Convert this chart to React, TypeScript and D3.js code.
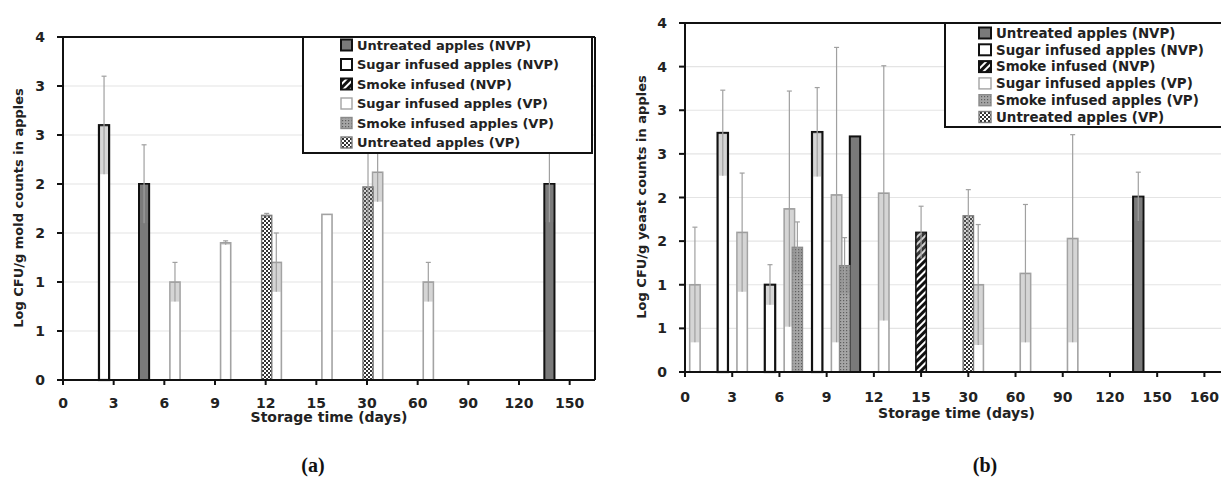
import React from "react";
import * as d3 from "d3";

type Bar = [number, number, number]; // [category index, value, error]

const seriesNames = [
  "Untreated apples (NVP)",
  "Sugar infused apples (NVP)",
  "Smoke infused (NVP)",
  "Sugar infused apples (VP)",
  "Smoke infused apples (VP)",
  "Untreated apples (VP)",
];

const daysA = ["0", "3", "6", "9", "12", "15", "30", "60", "90", "120", "150"];
const daysB = ["0", "3", "6", "9", "12", "15", "30", "60", "90", "120", "150", "160"];

const yTicksA = [0, 0.5, 1, 1.5, 2, 2.5, 3, 3.5];
const yTicksB = [0, 0.5, 1, 1.5, 2, 2.5, 3, 3.5, 4];

// (a) mold counts
const moldUntreatedNVP: Bar[] = [[2, 2.0, 0.4], [10, 2.0, 0.39]];
const moldSugarNVP: Bar[] = [[1, 2.6, 0.5]];
const moldSmokeNVP: Bar[] = [];
const moldSugarVP: Bar[] = [[2, 1.0, 0.2], [3, 1.4, 0.02], [4, 1.2, 0.3], [5, 1.69, 0], [6, 2.12, 0.3], [7, 1.0, 0.2]];
const moldSmokeVP: Bar[] = [];
const moldUntreatedVP: Bar[] = [[4, 1.68, 0.02], [6, 1.97, 0.4]];
const moldOffsets = [-0.4, -0.19, 0, 0.21, 0.38, 0.02];

// (b) yeast counts
const yeastUntreatedNVP: Bar[] = [[4, 2.7, 0], [10, 2.01, 0.28]];
const yeastSugarNVP: Bar[] = [[1, 2.74, 0.49], [2, 1.0, 0.23], [3, 2.75, 0.51]];
const yeastSmokeNVP: Bar[] = [[5, 1.6, 0.3]];
const yeastSugarVP: Bar[] = [[0, 1.0, 0.66], [1, 1.6, 0.68], [2, 1.87, 1.35], [3, 2.03, 1.69], [4, 2.05, 1.46], [6, 1.0, 0.69], [7, 1.13, 0.79], [8, 1.53, 1.19]];
const yeastSmokeVP: Bar[] = [[2, 1.43, 0.29], [3, 1.22, 0.32]];
const yeastUntreatedVP: Bar[] = [[6, 1.79, 0.3]];
const yeastOffsets = [-0.4, -0.2, 0, 0.21, 0.38, 0];

const FONT = "'DejaVu Sans', Verdana, sans-serif";

const styles = [
  { fill: "#7a7a7a", stroke: "#111", sw: 2 },
  { fill: "#ffffff", stroke: "#111", sw: 2.2 },
  { fill: "url(#hatch)", stroke: "#111", sw: 1.6 },
  { fill: "#ffffff", stroke: "#a3a3a3", sw: 1.6 },
  { fill: "url(#dots)", stroke: "#8a8a8a", sw: 1.2 },
  { fill: "url(#checker)", stroke: "#7a7a7a", sw: 1.4 },
];

type LegendCfg = { x: number; y: number; w: number; h: number; row0: number; dy: number; swX: number; swW: number; swH: number; textX: number; fs: number };

type PanelProps = {
  left: number; right: number; top: number; bottom: number;
  xMax: number; yMax: number;
  days: string[]; yTicks: number[];
  series: Bar[][]; offsets: number[]; barW: number;
  yTitle: string; yTitleX: number; yTitleY: number;
  yLabelEnd: number; xLabelBase: number; xTitleBase: number;
  legend: LegendCfg; rightBorder: boolean; axisEnd: number;
};

function Panel(p: PanelProps) {
  const x = d3.scaleLinear().domain([0, p.xMax]).range([p.left, p.right]);
  const y = d3.scaleLinear().domain([0, p.yMax]).range([p.bottom, p.top]);
  const bw = x(p.barW) - x(0);
  const L = p.legend;
  return (
    <g>
      {p.yTicks.slice(1, -1).map((t) => (
        <line key={"g" + t} x1={p.left} x2={p.axisEnd} y1={y(t)} y2={y(t)} stroke="#e4e4e4" strokeWidth={1.2} />
      ))}
      {p.series.map((bars, si) =>
        bars.map(([c, v, e], bi) => {
          const cx = x(c + p.offsets[si]);
          const st = styles[si];
          const lo = Math.max(0, v - e);
          return (
            <g key={si + "-" + bi}>
              <rect x={cx - bw / 2} y={y(v)} width={bw} height={y(0) - y(v)} fill={st.fill} stroke={st.stroke} strokeWidth={st.sw} />
              {e > 0 && (
                <rect x={cx - bw / 2 + st.sw / 2} y={y(v)} width={bw - st.sw} height={y(lo) - y(v)} fill="rgba(128,128,128,0.33)" />
              )}
              {e > 0 && (
                <g stroke="#a0a0a0" strokeWidth={1.2}>
                  <line x1={cx} x2={cx} y1={y(lo)} y2={y(v + e)} />
                  <line x1={cx - 2.5} x2={cx + 2.5} y1={y(v + e)} y2={y(v + e)} />
                </g>
              )}
            </g>
          );
        })
      )}
      {/* axes */}
      <line x1={p.left} x2={p.axisEnd} y1={y(p.yMax)} y2={y(p.yMax)} stroke="#111" strokeWidth={2} />
      {p.rightBorder && <line x1={p.right} x2={p.right} y1={p.top} y2={p.bottom} stroke="#111" strokeWidth={2} />}
      <line x1={p.left} x2={p.left} y1={p.top} y2={p.bottom} stroke="#111" strokeWidth={2} />
      <line x1={p.left - 6} x2={p.axisEnd} y1={p.bottom} y2={p.bottom} stroke="#111" strokeWidth={2} />
      {p.yTicks.map((t) => (
        <g key={"yt" + t}>
          <line x1={p.left - 6} x2={p.left} y1={y(t)} y2={y(t)} stroke="#111" strokeWidth={2} />
          <text x={p.yLabelEnd} y={y(t)} dy="0.36em" textAnchor="end" fontFamily={FONT} fontWeight="bold" fontSize={14} fill="#222">
            {Math.round(t)}
          </text>
        </g>
      ))}
      {p.days.map((d, i) => (
        <g key={"xt" + i}>
          <line x1={x(i)} x2={x(i)} y1={p.bottom} y2={p.bottom + 5} stroke="#111" strokeWidth={2} />
          <text x={x(i)} y={p.xLabelBase} textAnchor="middle" fontFamily={FONT} fontWeight="bold" fontSize={14} fill="#222">
            {d}
          </text>
        </g>
      ))}
      <text x={(p.left + x(p.xMax)) / 2} y={p.xTitleBase} textAnchor="middle" fontFamily={FONT} fontWeight="bold" fontSize={14} fill="#222">
        Storage time (days)
      </text>
      <text transform={`translate(${p.yTitleX},${p.yTitleY}) rotate(-90)`} textAnchor="middle" dy="0.35em" fontFamily={FONT} fontWeight="bold" fontSize={13} fill="#222">
        {p.yTitle}
      </text>
      {/* legend */}
      <rect x={L.x} y={L.y} width={L.w} height={L.h} fill="#fff" stroke="#111" strokeWidth={2} />
      {seriesNames.map((n, i) => {
        const cy = L.row0 + i * L.dy;
        const st = styles[i];
        return (
          <g key={"lg" + i}>
            <rect x={L.swX} y={cy - L.swH / 2} width={L.swW} height={L.swH} fill={st.fill} stroke={st.stroke} strokeWidth={i < 3 ? 2 : 1.4} />
            <text x={L.textX} y={cy} dy="0.36em" fontFamily={FONT} fontWeight="bold" fontSize={L.fs} fill="#222">
              {n}
            </text>
          </g>
        );
      })}
    </g>
  );
}

export default function App() {
  const moldSeries = [moldUntreatedNVP, moldSugarNVP, moldSmokeNVP, moldSugarVP, moldSmokeVP, moldUntreatedVP];
  const yeastSeries = [yeastUntreatedNVP, yeastSugarNVP, yeastSmokeNVP, yeastSugarVP, yeastSmokeVP, yeastUntreatedVP];
  return (
    <div style={{ position: "absolute", left: 0, top: 0 }}>
      <svg width={1221} height={480} style={{ display: "block", background: "#fff" }}>
        <defs>
          <pattern id="hatch" width={5} height={5} patternUnits="userSpaceOnUse" patternTransform="rotate(45)">
            <rect width={5} height={5} fill="#111" />
            <rect width={2} height={5} fill="#fff" />
          </pattern>
          <pattern id="dots" width={3} height={3} patternUnits="userSpaceOnUse">
            <rect width={3} height={3} fill="#a5a5a5" />
            <rect width={1.2} height={1.2} fill="#5e5e5e" />
          </pattern>
          <pattern id="checker" width={4} height={4} patternUnits="userSpaceOnUse">
            <rect width={4} height={4} fill="#fff" />
            <rect width={2} height={2} fill="#333" />
            <rect x={2} y={2} width={2} height={2} fill="#333" />
          </pattern>
        </defs>
        <Panel
          left={63} right={595} top={37} bottom={380} xMax={10.5} yMax={3.5}
          days={daysA} yTicks={yTicksA} series={moldSeries} offsets={moldOffsets} barW={0.2}
          yTitle="Log CFU/g mold counts in apples" yTitleX={18} yTitleY={208}
          yLabelEnd={45} xLabelBase={408} xTitleBase={422}
          legend={{ x: 303, y: 37, w: 289, h: 116, row0: 45, dy: 19.5, swX: 341, swW: 11, swH: 11, textX: 357, fs: 13 }}
          rightBorder={true} axisEnd={595}
        />
        <Panel
          left={685} right={1228} top={23} bottom={372} xMax={11.5} yMax={4}
          days={daysB} yTicks={yTicksB} series={yeastSeries} offsets={yeastOffsets} barW={0.22}
          yTitle="Log CFU/g yeast counts in apples" yTitleX={641} yTitleY={197}
          yLabelEnd={667} xLabelBase={402} xTitleBase={418}
          legend={{ x: 945, y: 23, w: 290, h: 104, row0: 33, dy: 16.8, swX: 979, swW: 12, swH: 11, textX: 996, fs: 13.4 }}
          rightBorder={false} axisEnd={1221}
        />
        <text x={313} y={472} textAnchor="middle" fontFamily="'Liberation Serif', 'DejaVu Serif', serif" fontWeight="bold" fontSize={20} fill="#111">(a)</text>
        <text x={985} y={472} textAnchor="middle" fontFamily="'Liberation Serif', 'DejaVu Serif', serif" fontWeight="bold" fontSize={20} fill="#111">(b)</text>
      </svg>
    </div>
  );
}
